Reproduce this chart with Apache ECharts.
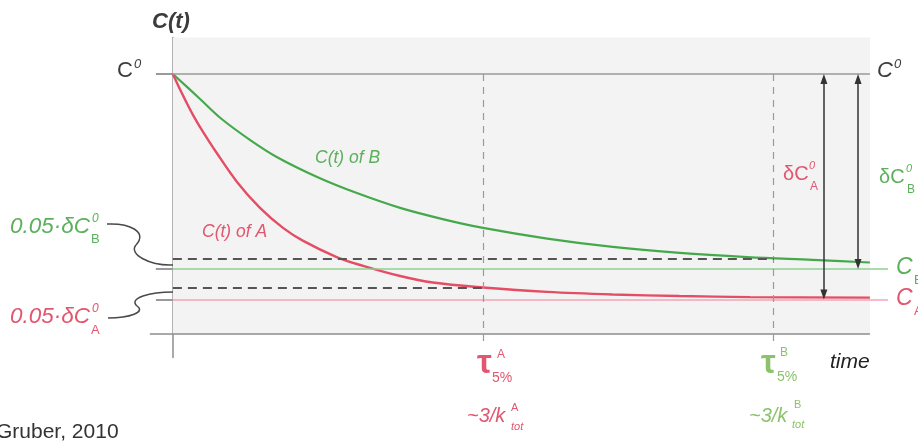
<!DOCTYPE html>
<html>
<head>
<meta charset="utf-8">
<script src="https://cdn.jsdelivr.net/npm/echarts@6/dist/echarts.min.js"></script>
<style>
  html, body { margin: 0; padding: 0; background: #fff; }
  #chart { width: 918px; height: 444px; }
</style>
</head>
<body>
<div id="chart"></div>
<script>
// 曲线（时间：0 = 起点，100 = 横轴末端；浓度：C0 = 1）
const timeA = [0, 1.0, 2.0, 2.9, 3.9, 6.3, 9.2, 12.5, 15.8, 18.7, 23.5, 27.3, 32.6, 37.3, 44.5, 53.7, 63.1, 72.7, 82.8, 100];
const concA = [1.0, 0.942, 0.888, 0.842, 0.796, 0.696, 0.585, 0.485, 0.408, 0.358, 0.296, 0.262, 0.223, 0.198, 0.179, 0.162, 0.152, 0.146, 0.142, 0.140];
const timeB = [0, 3.9, 7.0, 11.1, 14.9, 20.7, 26.4, 32.6, 38.7, 44.5, 53.7, 63.1, 72.7, 82.4, 91.8, 100];
const concB = [1.0, 0.904, 0.827, 0.746, 0.681, 0.604, 0.542, 0.485, 0.442, 0.408, 0.367, 0.335, 0.312, 0.296, 0.285, 0.275];

// 参考水平/时间点
const C0 = 1.0;
const cInfA = 0.133, cInfB = 0.25;
const fiveA = 0.177, fiveB = 0.288;   // C∞ + 0.05·δC0
const tauA = 44.5, tauB = 86.2;
const arrowA = 93.4, arrowB = 98.3;

// 坐标范围
const xMin = -24.8, xMax = 106.9, xAxisStart = -3.3, xAxisEnd = 100, lineEnd = 102.6;
const yMin = -0.09, yMax = 1.14, tauBottom = -0.05;

const RED = '#e44d64', GREEN = '#45a94c';
const RED_TXT = '#e2566f', GREEN_TXT = '#5cb05c', LIGHT_GREEN_TXT = '#8cc26c';
const FONT = '"Liberation Sans", Arial, sans-serif';

const zip = (xs, ys) => xs.map((x, i) => [x, ys[i]]);
const seg = (x1, y1, x2, y2, style) => [{ coord: [x1, y1], lineStyle: style }, { coord: [x2, y2] }];

function txt(text, x, y, size, color, italic, weight) {
  return {
    type: 'text', x, y, silent: true, z: 10,
    style: {
      text, fill: color,
      font: `${italic ? 'italic' : 'normal'} ${weight || 'normal'} ${size}px ${FONT}`,
      align: 'left', verticalAlign: 'middle'
    }
  };
}

function curve(x1, y1, cpx1, cpy1, cpx2, cpy2, x2, y2) {
  return {
    type: 'bezierCurve', silent: true, z: 10,
    shape: { x1, y1, cpx1, cpy1, cpx2, cpy2, x2, y2 },
    style: { stroke: '#4a4a4a', lineWidth: 1.5, fill: 'none' }
  };
}

const chart = echarts.init(document.getElementById('chart'));
const head = 0.019; // 箭头半高（数据单位）

chart.setOption({
  animation: false,
  backgroundColor: '#fff',
  grid: { left: 0, right: 0, top: 37.6, bottom: 86.6 },
  xAxis: {
    type: 'value', min: xMin, max: xMax,
    axisLine: { show: false }, axisTick: { show: false },
    axisLabel: { show: false }, splitLine: { show: false }
  },
  yAxis: {
    type: 'value', min: yMin, max: yMax,
    axisLine: { show: true, onZero: true, lineStyle: { color: '#8c8c8c', width: 1.5 } },
    axisTick: { show: true, customValues: [cInfA, cInfB, C0], length: 17, lineStyle: { color: '#7a7a7a', width: 1.5 } },
    axisLabel: { show: false }, splitLine: { show: false }
  },
  series: [
    {
      // 灰色背景
      type: 'line', data: [], z: 0, silent: true,
      markArea: {
        silent: true,
        itemStyle: { color: '#f3f3f3' },
        data: [[{ coord: [0, 0] }, { coord: [xAxisEnd, yMax] }]]
      }
    },
    {
      // 参考线
      type: 'line', data: [], z: 1, silent: true,
      markLine: {
        silent: true, symbol: 'none', label: { show: false },
        emphasis: { disabled: true },
        data: [
          seg(xAxisStart, 0, xAxisEnd, 0, { color: '#8c8c8c', width: 1.5, type: 'solid' }),
          seg(0, C0, xAxisEnd, C0, { color: '#9a9a9a', width: 1.5, type: 'solid' }),
          seg(0, cInfB, lineEnd, cInfB, { color: '#8fd18f', width: 1.5, type: 'solid' }),
          seg(0, cInfA, lineEnd, cInfA, { color: '#f3a5b6', width: 1.5, type: 'solid' }),
          seg(tauA, C0, tauA, tauBottom, { color: '#9a9a9a', width: 1.2, type: [7, 6] }),
          seg(tauB, C0, tauB, tauBottom, { color: '#9a9a9a', width: 1.2, type: [7, 6] }),
          seg(0, fiveB, tauB, fiveB, { color: '#555', width: 2, type: [9, 6] }),
          seg(0, fiveA, tauA, fiveA, { color: '#555', width: 2, type: [9, 6] })
        ]
      }
    },
    {
      name: 'C(t) of B', type: 'line', z: 3, data: zip(timeB, concB),
      showSymbol: false, smooth: 0.35,
      lineStyle: { color: GREEN, width: 2.2 }
    },
    {
      name: 'C(t) of A', type: 'line', z: 3, data: zip(timeA, concA),
      showSymbol: false, smooth: 0.35,
      lineStyle: { color: RED, width: 2.4 }
    },
    {
      // δC0 双向箭头
      type: 'line', data: [], z: 4, silent: true,
      markLine: {
        silent: true, symbol: ['triangle', 'triangle'], symbolSize: [7, 10],
        label: { show: false }, emphasis: { disabled: true },
        lineStyle: { color: '#333', width: 1.5, type: 'solid' },
        data: [
          seg(arrowA, C0 - head, arrowA, cInfA + head, { color: '#333', width: 1.5, type: 'solid' }),
          seg(arrowB, C0 - head, arrowB, cInfB + head, { color: '#333', width: 1.5, type: 'solid' })
        ]
      }
    }
  ],
  graphic: [
    txt('C(t)', 152, 22, 22, '#3c3c3c', true, 'bold'),
    txt('C', 117, 71, 22, '#3c3c3c', false),
    txt('0', 134, 64, 13, '#3c3c3c', true),
    txt('C', 877, 71, 22, '#3c3c3c', true),
    txt('0', 894, 64, 13, '#3c3c3c', true),

    txt('C(t) of B', 315, 158, 17.5, GREEN_TXT, true),
    txt('C(t) of A', 202, 232, 17.5, RED_TXT, true),

    txt('0.05·δC', 10, 227, 22.5, GREEN_TXT, true),
    txt('0', 92, 219, 12, GREEN_TXT, true),
    txt('B', 91, 239, 13, GREEN_TXT, false),
    txt('0.05·δC', 10, 317, 22.5, RED_TXT, true),
    txt('0', 92, 309, 12, RED_TXT, true),
    txt('A', 91, 330, 13, RED_TXT, false),

    txt('δC', 783, 174, 20, RED_TXT, false),
    txt('0', 809, 166, 11, RED_TXT, true),
    txt('A', 810, 187, 12, RED_TXT, false),
    txt('δC', 879, 177, 20, GREEN_TXT, false),
    txt('0', 906, 169, 11, GREEN_TXT, true),
    txt('B', 907, 190, 12, GREEN_TXT, false),

    txt('C', 896, 268, 23, GREEN_TXT, true),
    txt('B', 914, 280, 13, GREEN_TXT, false),
    txt('C', 896, 299, 23, RED_TXT, true),
    txt('A', 914, 311, 13, RED_TXT, false),

    txt('time', 830, 362, 21, '#222', true),

    txt('τ', 477, 364, 33, RED_TXT, false, 'bold'),
    txt('A', 497, 355, 12, RED_TXT, false),
    txt('5%', 492, 378, 14, RED_TXT, false),
    txt('τ', 761, 364, 33, LIGHT_GREEN_TXT, false, 'bold'),
    txt('B', 780, 353, 12, LIGHT_GREEN_TXT, false),
    txt('5%', 777, 377, 14, LIGHT_GREEN_TXT, false),

    txt('~3/k', 467, 416, 20, RED_TXT, true),
    txt('A', 511, 408, 11, RED_TXT, false),
    txt('tot', 511, 427, 11, RED_TXT, true),
    txt('~3/k', 749, 416, 20, LIGHT_GREEN_TXT, true),
    txt('B', 794, 405, 11, LIGHT_GREEN_TXT, false),
    txt('tot', 792, 425, 11, LIGHT_GREEN_TXT, true),

    txt('Gruber, 2010', -4, 432, 21, '#333', false),

    // 0.05·δC0 的波浪引线
    curve(107, 224, 130, 223, 148, 232, 136, 245),
    curve(136, 245, 128, 254, 150, 266, 173, 265),
    curve(108, 318, 130, 318, 146, 312, 137, 306),
    curve(137, 306, 128, 298, 150, 292, 173, 292)
  ]
});
</script>
</body>
</html>
